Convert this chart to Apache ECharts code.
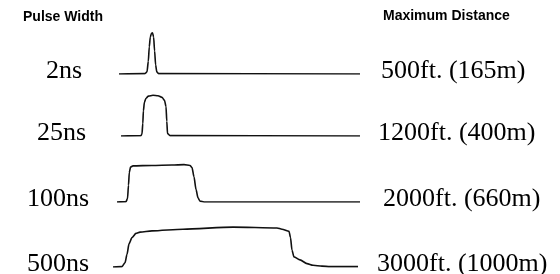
<!DOCTYPE html>
<html>
<head>
<meta charset="utf-8">
<script src="https://cdn.jsdelivr.net/npm/echarts@6/dist/echarts.min.js"></script>
<style>
  html, body { margin: 0; padding: 0; background: #fff; }
  #pulse-chart { width: 560px; height: 274px; }
</style>
</head>
<body>
<div id="pulse-chart"></div>
<script>
// pulse labels and ranges
var widthLabels = ['2ns', '25ns', '100ns', '500ns'];
var distanceLabels = ['500ft. (165m)', '1200ft. (400m)', '2000ft. (660m)', '3000ft. (1000m)'];

// traces: [position along trace, relative amplitude]
var pulse2ns = [
  [7, 0], [33, 0.01], [35, 0.05], [36.3, 0.3], [37.3, 0.65], [38.3, 0.88], [39.5, 0.97],
  [40.5, 0.98], [41.6, 0.88], [42.6, 0.55], [43.6, 0.22], [44.8, 0.05], [46.5, 0.01], [248, 0]
];
var pulse25ns = [
  [9, 0], [29, 0.01], [30, 0.05], [30.8, 0.3], [31.4, 0.6], [32.4, 0.8], [34, 0.9],
  [36.5, 0.95], [41, 0.97], [46, 0.96], [50, 0.92], [52.5, 0.85], [54, 0.7], [54.8, 0.35],
  [55.5, 0.06], [58, 0.01], [248, 0]
];
var pulse100ns = [
  [5, 0], [14, 0.01], [15.5, 0.08], [16.5, 0.4], [17.3, 0.7], [18.5, 0.83], [21, 0.86],
  [40, 0.87], [60, 0.88], [72, 0.89], [78, 0.87], [80, 0.82], [82, 0.6], [84, 0.3],
  [86, 0.1], [88, 0.02], [92, 0], [248, 0]
];
var pulse500ns = [
  [1, 0], [10, 0.01], [13, 0.1], [15, 0.3], [17, 0.55], [20, 0.7], [24, 0.8], [28, 0.83],
  [40, 0.86], [71, 0.9], [121, 0.95], [165, 0.93], [170, 0.9], [177, 0.85], [178.5, 0.7],
  [180, 0.4], [182, 0.24], [188, 0.17], [195, 0.08], [201, 0.04], [210, 0.02], [218, 0.01],
  [246, 0.01]
];
var pulses = [pulse2ns, pulse25ns, pulse100ns, pulse500ns];

var baselines = [74, 136, 202, 267];
var textCenters = [71, 133, 199, 264];
var widthLabelX = [46, 37, 27, 27];
var distLabelX = [381, 378, 383, 377];

var chartDom = document.getElementById('pulse-chart');
var myChart = echarts.init(chartDom);
var option;

var grids = [], xAxes = [], yAxes = [], series = [];
var graphics = [
  { type: 'text', left: 23, top: 10, style: { text: 'Pulse Width', font: 'bold 14px "Liberation Sans"', fill: '#000' } },
  { type: 'text', left: 383, top: 9, style: { text: 'Maximum Distance', font: 'bold 14px "Liberation Sans"', fill: '#000' } }
];

pulses.forEach(function (p, i) {
  grids.push({ left: 112, width: 250, top: baselines[i] - 42, height: 42 });
  xAxes.push({ type: 'value', gridIndex: i, min: 0, max: 250, show: false });
  yAxes.push({ type: 'value', gridIndex: i, min: 0, max: 1, show: false });
  series.push({
    type: 'line',
    xAxisIndex: i,
    yAxisIndex: i,
    data: p,
    showSymbol: false,
    smooth: 0.25,
    smoothMonotone: 'x',
    lineStyle: { color: '#111', width: 1.6 },
    silent: true
  });
  graphics.push({
    type: 'text', x: widthLabelX[i], y: textCenters[i],
    style: { text: widthLabels[i], font: '26px "Liberation Serif"', fill: '#000', verticalAlign: 'middle' }
  });
  graphics.push({
    type: 'text', x: distLabelX[i], y: textCenters[i],
    style: { text: distanceLabels[i], font: '26px "Liberation Serif"', fill: '#000', verticalAlign: 'middle' }
  });
});

option = {
  animation: false,
  grid: grids,
  xAxis: xAxes,
  yAxis: yAxes,
  series: series,
  graphic: graphics
};

option && myChart.setOption(option);
</script>
</body>
</html>
